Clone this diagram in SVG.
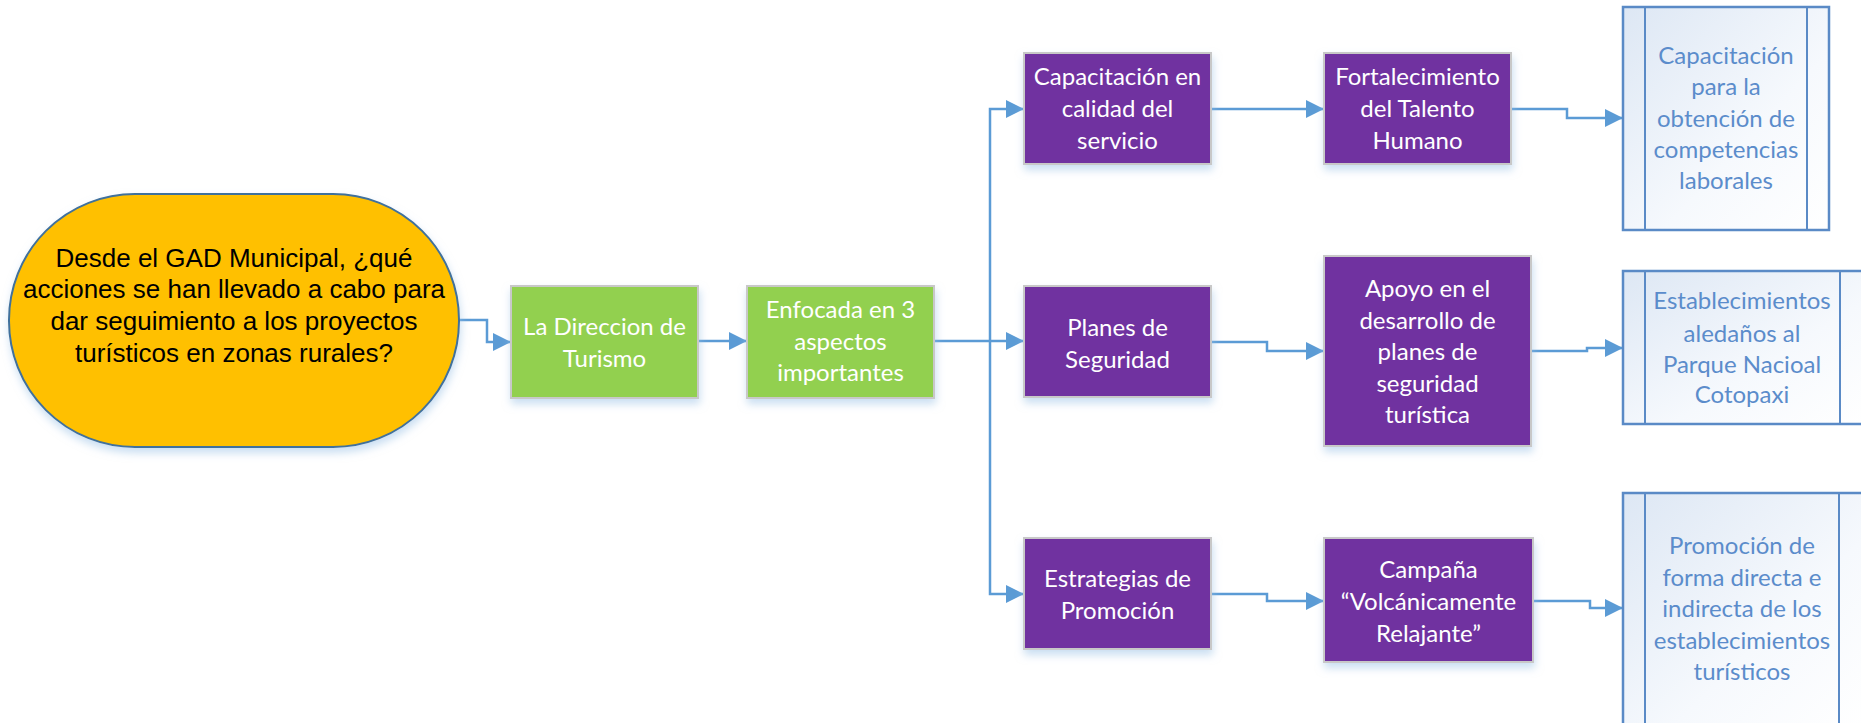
<svg xmlns="http://www.w3.org/2000/svg" width="1861" height="723" viewBox="0 0 1861 723">
<defs>
  <marker id="arr" markerUnits="userSpaceOnUse" markerWidth="18" markerHeight="18" refX="18" refY="9" orient="auto">
    <path d="M0,0 L18,9 L0,18 Z" fill="#5b9bd5"/>
  </marker>
  <filter id="sh" x="-10%" y="-10%" width="125%" height="130%">
    <feDropShadow dx="1" dy="5" stdDeviation="4" flood-color="#9dc3e6" flood-opacity="0.55"/>
  </filter>
  <linearGradient id="bg" x1="0" y1="0" x2="1" y2="1">
    <stop offset="0" stop-color="#dde7f4"/>
    <stop offset="0.6" stop-color="#f6f9fd"/>
    <stop offset="1" stop-color="#ffffff"/>
  </linearGradient>
  <style>
    .term { fill:#ffc000; stroke:#41719c; stroke-width:2; }
    .green { fill:#92d050; stroke:#c8c8c8; stroke-width:2; }
    .purple { fill:#7030a0; stroke:#c8c8c8; stroke-width:2; }
    .blue { fill:url(#bg); stroke:#5a8ac6; stroke-width:2.5; }
    .band { fill:none; stroke:#5a8ac6; stroke-width:2; }
    .conn { fill:none; stroke:#5b9bd5; stroke-width:2.5; }
    .tt { font-family:"Liberation Sans", Arial, sans-serif; font-size:26px; fill:#000; text-anchor:middle; }
    .wt { font-family:Lato, "Liberation Sans", sans-serif; font-size:24px; fill:#ffffff; text-anchor:middle; }
    .bt { font-family:Lato, "Liberation Sans", sans-serif; font-size:24px; fill:#5b8ccb; text-anchor:middle; }
  </style>
</defs>

<g id="connectors">
  <path class="conn" d="M459,320 H487 V342 H511" marker-end="url(#arr)"/>
  <path class="conn" d="M698,341 H747" marker-end="url(#arr)"/>
  <path class="conn" d="M934,341 H1024" marker-end="url(#arr)"/>
  <path class="conn" d="M990,341 V109 H1024" marker-end="url(#arr)"/>
  <path class="conn" d="M990,341 V594 H1024" marker-end="url(#arr)"/>
  <path class="conn" d="M1211,109 H1324" marker-end="url(#arr)"/>
  <path class="conn" d="M1511,109 H1567 V118 H1623" marker-end="url(#arr)"/>
  <path class="conn" d="M1211,342 H1267 V351 H1324" marker-end="url(#arr)"/>
  <path class="conn" d="M1531,351 H1587 V348 H1623" marker-end="url(#arr)"/>
  <path class="conn" d="M1211,594 H1267 V601 H1324" marker-end="url(#arr)"/>
  <path class="conn" d="M1533,601 H1590 V608 H1623" marker-end="url(#arr)"/>
</g>

<g id="n-pregunta">
  <rect class="term" x="9" y="194" width="450" height="253" rx="126" ry="126" filter="url(#sh)"/>
  <text class="tt" x="234" y="267">Desde el GAD Municipal, ¿qué</text>
  <text class="tt" x="234" y="298">acciones se han llevado a cabo para</text>
  <text class="tt" x="234" y="330">dar seguimiento a los proyectos</text>
  <text class="tt" x="234" y="362">turísticos en zonas rurales?</text>
</g>

<g id="n-direccion">
  <rect class="green" x="511" y="286" width="187" height="112" filter="url(#sh)"/>
  <text class="wt" x="604.5" y="335">La Direccion de</text>
  <text class="wt" x="604.5" y="367">Turismo</text>
</g>

<g id="n-enfocada">
  <rect class="green" x="747" y="286" width="187" height="112" filter="url(#sh)"/>
  <text class="wt" x="840.5" y="318">Enfocada en 3</text>
  <text class="wt" x="840.5" y="350">aspectos</text>
  <text class="wt" x="840.5" y="381">importantes</text>
</g>

<g id="n-capacitacion">
  <rect class="purple" x="1024" y="53" width="187" height="111" filter="url(#sh)"/>
  <text class="wt" x="1117.5" y="85">Capacitación en</text>
  <text class="wt" x="1117.5" y="117">calidad del</text>
  <text class="wt" x="1117.5" y="149">servicio</text>
</g>

<g id="n-fortalecimiento">
  <rect class="purple" x="1324" y="53" width="187" height="111" filter="url(#sh)"/>
  <text class="wt" x="1417.5" y="85">Fortalecimiento</text>
  <text class="wt" x="1417.5" y="117">del Talento</text>
  <text class="wt" x="1417.5" y="149">Humano</text>
</g>

<g id="n-competencias">
  <rect class="blue" x="1623" y="7" width="206" height="223"/>
  <line class="band" x1="1645" y1="7" x2="1645" y2="230"/>
  <line class="band" x1="1807" y1="7" x2="1807" y2="230"/>
  <text class="bt" x="1726" y="64">Capacitación</text>
  <text class="bt" x="1726" y="95">para la</text>
  <text class="bt" x="1726" y="127">obtención de</text>
  <text class="bt" x="1726" y="158">competencias</text>
  <text class="bt" x="1726" y="189">laborales</text>
</g>

<g id="n-planes">
  <rect class="purple" x="1024" y="286" width="187" height="111" filter="url(#sh)"/>
  <text class="wt" x="1117.5" y="336">Planes de</text>
  <text class="wt" x="1117.5" y="368">Seguridad</text>
</g>

<g id="n-apoyo">
  <rect class="purple" x="1324" y="256" width="207" height="190" filter="url(#sh)"/>
  <text class="wt" x="1427.5" y="297">Apoyo en el</text>
  <text class="wt" x="1427.5" y="329">desarrollo de</text>
  <text class="wt" x="1427.5" y="360">planes de</text>
  <text class="wt" x="1427.5" y="392">seguridad</text>
  <text class="wt" x="1427.5" y="423">turística</text>
</g>

<g id="n-establecimientos">
  <rect class="blue" x="1623" y="271" width="240" height="153"/>
  <line class="band" x1="1645" y1="271" x2="1645" y2="424"/>
  <line class="band" x1="1840" y1="271" x2="1840" y2="424"/>
  <text class="bt" x="1742" y="309">Establecimientos</text>
  <text class="bt" x="1742" y="342">aledaños al</text>
  <text class="bt" x="1742" y="373">Parque Nacioal</text>
  <text class="bt" x="1742" y="403">Cotopaxi</text>
</g>

<g id="n-estrategias">
  <rect class="purple" x="1024" y="538" width="187" height="111" filter="url(#sh)"/>
  <text class="wt" x="1117.5" y="587">Estrategias de</text>
  <text class="wt" x="1117.5" y="619">Promoción</text>
</g>

<g id="n-campana">
  <rect class="purple" x="1324" y="538" width="209" height="124" filter="url(#sh)"/>
  <text class="wt" x="1428.5" y="578">Campaña</text>
  <text class="wt" x="1428.5" y="610">“Volcánicamente</text>
  <text class="wt" x="1428.5" y="642">Relajante”</text>
</g>

<g id="n-promocion">
  <rect class="blue" x="1623" y="493" width="240" height="235"/>
  <line class="band" x1="1645" y1="493" x2="1645" y2="723"/>
  <line class="band" x1="1839" y1="493" x2="1839" y2="723"/>
  <text class="bt" x="1742" y="554">Promoción de</text>
  <text class="bt" x="1742" y="586">forma directa e</text>
  <text class="bt" x="1742" y="617">indirecta de los</text>
  <text class="bt" x="1742" y="649">establecimientos</text>
  <text class="bt" x="1742" y="680">turísticos</text>
</g>
</svg>
